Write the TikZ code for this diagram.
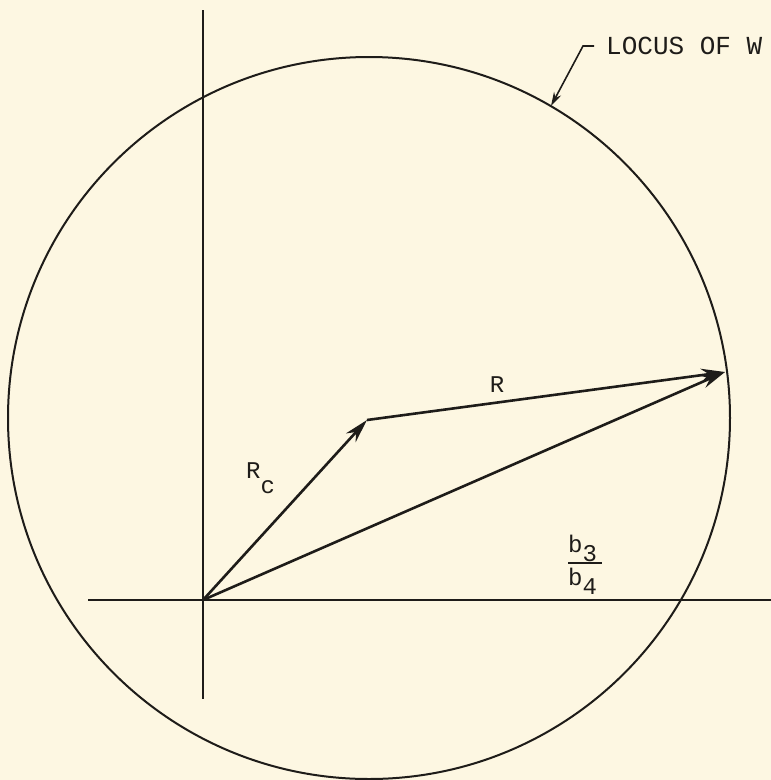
\documentclass[tikz,border=0pt]{standalone}
\usepackage{fontspec}
\setmainfont{Liberation Mono}
\usetikzlibrary{arrows.meta}
\definecolor{paper}{RGB}{253,247,226}
\definecolor{ink}{RGB}{30,28,25}
\tikzset{
  axis/.style={draw=ink,line width=2pt},
  locus/.style={draw=ink,line width=2pt},
  vec/.style={draw=ink,line width=2.6pt,-{Stealth[length=24pt,width=13pt]}},
  leader/.style={draw=ink,line width=1.6pt,-{Stealth[length=14pt,width=8pt]}},
  lbl/.style={inner sep=0pt,text=ink,font=\fontsize{24}{24}\selectfont},
}
\begin{document}
\begin{tikzpicture}[x=1pt,y=-1pt]
\fill[paper] (0,0) rectangle (771,780);
\useasboundingbox (0,0) rectangle (771,780);
% circle (locus of W)
\coordinate (C) at (369,418);
\draw[locus] (C) circle[radius=361];
% axes
\coordinate (vt) at (203,10);
\coordinate (vb) at (203,699);
\coordinate (hl) at (88,600);
\coordinate (hr) at (771,600);
\draw[axis] (vt) -- (vb);
\draw[axis] (hl) -- (hr);
% vectors
\coordinate (O) at (203,600);
\coordinate (A) at (367,420);
\coordinate (B) at (725,372);
\draw[vec] (O) -- (A);
\draw[vec] (A) -- (B);
\draw[vec] (O) -- (B);
% labels
\node[lbl,anchor=base west] (rc) at (246,478) {R\raisebox{-15pt}{c}};
\node[lbl,anchor=base] (r) at (497,392) {R};
\node[lbl,anchor=base west] (b3) at (568,552) {b\raisebox{-9pt}{3}};
\draw[draw=ink,line width=1.6pt] (568,563) -- (602,563);
\node[lbl,anchor=base west] (b4) at (568,585) {b\raisebox{-9pt}{4}};
% locus label
\node[inner sep=0pt,anchor=west,text=ink,font=\fontsize{26}{26}\selectfont] (loc) at (606,46) {LOCUS OF W};
\coordinate (hook) at (594,46);
\coordinate (bend) at (583,46);
\coordinate (tip) at (551,106);
\draw[leader] (hook) -- (bend) -- (tip);
\end{tikzpicture}
\end{document}
